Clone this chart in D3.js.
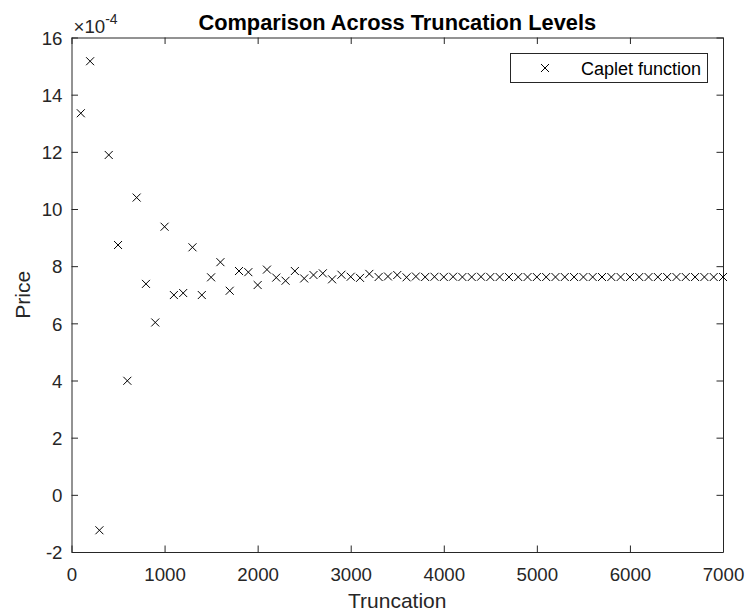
<!DOCTYPE html>
<html>
<head>
<meta charset="utf-8">
<script src="https://cdn.jsdelivr.net/npm/d3@7"></script>
<style>
  body { margin: 0; background: #fff; }
  svg { display: block; font-family: "Liberation Sans", Arial, Helvetica, sans-serif; }
</style>
</head>
<body>
<div id="chart"></div>
<script>
// truncation levels (x)
var truncation = [
  100, 200, 300, 400, 500, 600, 700, 800, 900, 1000,
  1100, 1200, 1300, 1400, 1500, 1600, 1700, 1800, 1900, 2000,
  2100, 2200, 2300, 2400, 2500, 2600, 2700, 2800, 2900, 3000,
  3100, 3200, 3300, 3400, 3500, 3600, 3700, 3800, 3900, 4000,
  4100, 4200, 4300, 4400, 4500, 4600, 4700, 4800, 4900, 5000,
  5100, 5200, 5300, 5400, 5500, 5600, 5700, 5800, 5900, 6000,
  6100, 6200, 6300, 6400, 6500, 6600, 6700, 6800, 6900, 7000
];
// caplet price, in units of 1e-4
var price = [
  13.35, 15.17, -1.24, 11.89, 8.74, 3.99, 10.40, 7.38, 6.03, 9.38,
  6.99, 7.06, 8.66, 6.99, 7.61, 8.14, 7.14, 7.83, 7.79, 7.34,
  7.88, 7.60, 7.49, 7.83, 7.57, 7.69, 7.75, 7.54, 7.70, 7.63,
  7.59, 7.73, 7.62, 7.64, 7.69, 7.61, 7.64, 7.62, 7.63, 7.62,
  7.63, 7.62, 7.62, 7.63, 7.62, 7.62, 7.62, 7.62, 7.62, 7.62,
  7.62, 7.62, 7.62, 7.62, 7.62, 7.62, 7.62, 7.62, 7.62, 7.62,
  7.62, 7.62, 7.62, 7.62, 7.62, 7.62, 7.62, 7.62, 7.62, 7.62
];
var xTicks = [0, 1000, 2000, 3000, 4000, 5000, 6000, 7000];
var yTicks = [-2, 0, 2, 4, 6, 8, 10, 12, 14, 16];
var seriesName = "Caplet function";

var W = 746, H = 614;
var mLeft = 71.5, mRight = 723, mTop = 37.5, mBottom = 552;
var axisColor = "#262626";

var svg = d3.select("#chart").append("svg")
  .attr("width", W).attr("height", H);

var x = d3.scaleLinear().domain([0, 7000]).range([mLeft, mRight]);
var y = d3.scaleLinear().domain([-2, 16]).range([mBottom, mTop]);

var tickLen = 6.5;
// matlab prints a plain hyphen for negatives
var fmt = function (d) { return String(d); };

// bottom / top axes with inward ticks
var xAxis = d3.axisBottom(x).tickValues(xTicks).tickFormat(fmt)
  .tickSizeInner(-tickLen).tickSizeOuter(0).tickPadding(16);
var gx = svg.append("g").attr("transform", "translate(0," + mBottom + ")").call(xAxis);
var gxTop = svg.append("g").attr("transform", "translate(0," + mTop + ")")
  .call(d3.axisTop(x).tickValues(xTicks).tickSizeInner(-tickLen).tickSizeOuter(0).tickFormat(""));

var yAxis = d3.axisLeft(y).tickValues(yTicks).tickFormat(fmt)
  .tickSizeInner(-tickLen).tickSizeOuter(0).tickPadding(9);
var gy = svg.append("g").attr("transform", "translate(" + mLeft + ",0)").call(yAxis);
var gyRight = svg.append("g").attr("transform", "translate(" + mRight + ",0)")
  .call(d3.axisRight(y).tickValues(yTicks).tickSizeInner(-tickLen).tickSizeOuter(0).tickFormat(""));

[gx, gxTop, gy, gyRight].forEach(function (g) {
  g.select(".domain").attr("stroke", axisColor).attr("stroke-width", 1);
  g.selectAll(".tick line").attr("stroke", axisColor).attr("stroke-width", 1);
  g.selectAll(".tick text").attr("fill", axisColor)
    .style("font-size", "18.7px").style("font-family", "Liberation Sans, Arial, sans-serif");
});
gx.selectAll(".tick text").attr("dy", "0.71em");
gy.selectAll(".tick text").attr("dy", "0.36em");

// exponent label
var expo = svg.append("text")
  .attr("x", mLeft + 2).attr("y", 33)
  .attr("fill", axisColor)
  .style("font-size", "18.7px");
expo.append("tspan").text("\u00d710");
expo.append("tspan").attr("dy", -9).style("font-size", "14px").text("-4");

// title
svg.append("text")
  .attr("x", (mLeft + mRight) / 2).attr("y", 30)
  .attr("text-anchor", "middle")
  .style("font-size", "21.8px").style("font-weight", "bold")
  .attr("fill", "#000")
  .text("Comparison Across Truncation Levels");

// axis labels
svg.append("text")
  .attr("x", (mLeft + mRight) / 2).attr("y", 608)
  .attr("text-anchor", "middle")
  .style("font-size", "21px")
  .attr("fill", axisColor)
  .text("Truncation");

svg.append("text")
  .attr("transform", "translate(30," + ((mTop + mBottom) / 2) + ") rotate(-90)")
  .attr("text-anchor", "middle")
  .style("font-size", "21px")
  .attr("fill", axisColor)
  .text("Price");

// x markers
var m = 4;
function cross(sel) {
  sel.append("line").attr("x1", -m).attr("y1", -m).attr("x2", m).attr("y2", m);
  sel.append("line").attr("x1", -m).attr("y1", m).attr("x2", m).attr("y2", -m);
}

var pts = svg.append("g").attr("stroke", "#000").attr("stroke-width", 1)
  .selectAll("g").data(truncation).enter().append("g")
  .attr("transform", function (d, i) { return "translate(" + x(d) + "," + y(price[i]) + ")"; });
cross(pts);

// legend
var lg = svg.append("g");
lg.append("rect")
  .attr("x", 510.5).attr("y", 53.5).attr("width", 197).attr("height", 29)
  .attr("fill", "#fff").attr("stroke", axisColor).attr("stroke-width", 1);
var lm = lg.append("g").attr("transform", "translate(545,68)")
  .attr("stroke", "#000").attr("stroke-width", 1);
cross(lm);
lg.append("text")
  .attr("x", 581).attr("y", 74.5)
  .style("font-size", "18px")
  .attr("fill", "#000")
  .text(seriesName);
</script>
</body>
</html>
